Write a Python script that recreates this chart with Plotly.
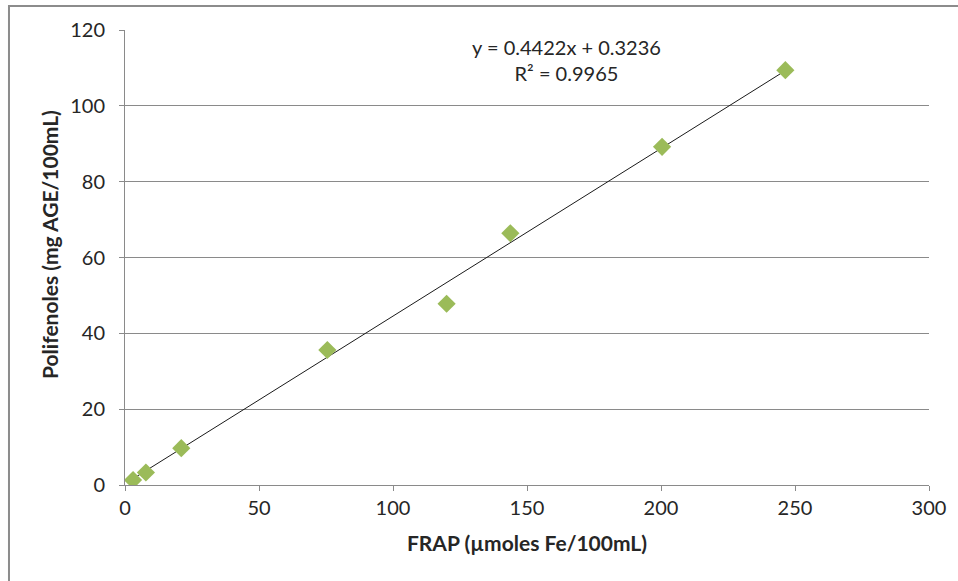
import plotly.graph_objects as go

# FRAP vs. polyphenol measurements
frap = [3.0, 7.8, 21.0, 75.5, 120.0, 143.8, 200.4, 246.4]
polifenoles = [1.3, 3.3, 9.7, 35.6, 47.8, 66.4, 89.2, 109.4]

# Linear trendline coefficients
slope = 0.4422
intercept = 0.3236
r2 = 0.9965

x_ticks = [0, 50, 100, 150, 200, 250, 300]
y_ticks = [0, 20, 40, 60, 80, 100, 120]

font_family = "Lato, Open Sans, sans-serif"
text_color = "#262626"
grid_color = "#8a8a8a"

x_line = [min(frap), max(frap)]
y_line = [slope * v + intercept for v in x_line]

fig = go.Figure()
fig.add_trace(go.Scatter(
    x=x_line, y=y_line, mode="lines",
    line=dict(color="#1a1a1a", width=1), hoverinfo="skip", showlegend=False,
))
fig.add_trace(go.Scatter(
    x=frap, y=polifenoles, mode="markers",
    marker=dict(symbol="diamond", size=14, color="#9BBB59", line=dict(width=0)),
    showlegend=False,
))

# trendline equation
fig.add_annotation(
    x=0.549, y=0.934, xref="paper", yref="paper", yanchor="middle",
    text=f"y = {slope}x + {intercept}<br>R² = {r2}",
    showarrow=False, align="center",
    font=dict(family=font_family, size=20, color=text_color),
)

# y-axis title, placed slightly above the plot's vertical centre
fig.add_annotation(
    x=-0.0933, y=0.5297, xref="paper", yref="paper",
    xanchor="center", yanchor="middle", textangle=-90,
    text="<b>Polifenoles (mg AGE/100mL)</b>", showarrow=False,
    font=dict(family=font_family, size=21, color=text_color),
)

# outer chart frame
fig.add_shape(
    type="rect", xref="paper", yref="paper",
    x0=-0.1443, x1=1.2, y0=1.0527, y1=-1.0,
    line=dict(color="#8c8c8c", width=2), layer="below",
)

fig.update_layout(
    width=958, height=581,
    margin=dict(l=125, r=29, t=30, b=96),
    paper_bgcolor="white", plot_bgcolor="white",
    font=dict(family=font_family, size=20, color=text_color),
    xaxis=dict(
        range=[0, 300], tickvals=x_ticks, showgrid=False, zeroline=False,
        showline=True, linecolor=grid_color, linewidth=1,
        ticks="outside", ticklen=5, tickcolor=grid_color,
        title=dict(text="<b>FRAP (µmoles Fe/100mL)</b>", font=dict(size=21), standoff=18),
    ),
    yaxis=dict(
        range=[0, 120], tickvals=y_ticks, showgrid=True, gridcolor=grid_color,
        gridwidth=1, zeroline=False, showline=True, linecolor=grid_color, linewidth=1,
        ticks="outside", ticklen=5, tickcolor=grid_color, ticklabelstandoff=10,
    ),
)

fig.write_html("out.html")
